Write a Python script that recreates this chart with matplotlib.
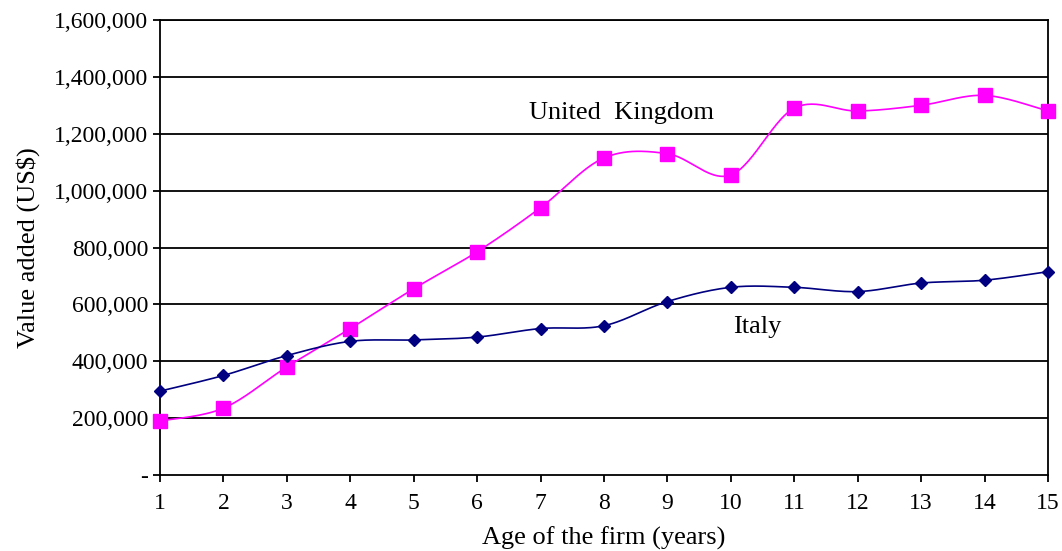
import matplotlib
matplotlib.use("Agg")
import matplotlib.pyplot as plt
import matplotlib.ticker as mticker
import numpy as np

plt.rcParams["font.family"] = ["Liberation Serif", "DejaVu Serif"]

age = list(range(1, 16))
uk = [190000, 235000, 380000, 515000, 655000, 785000, 940000, 1115000,
      1130000, 1055000, 1290000, 1280000, 1300000, 1335000, 1280000]
italy = [295000, 350000, 420000, 470000, 475000, 485000, 515000, 525000,
         610000, 660000, 660000, 645000, 675000, 685000, 715000]
yticks = list(range(0, 1600001, 200000))


def smooth(x, y, n=30):
    # Excel-style smoothed line (Catmull-Rom through the points)
    p = np.column_stack([x, y]).astype(float)
    p = np.vstack([p[0], p, p[-1]])
    out = []
    for i in range(1, len(p) - 2):
        p0, p1, p2, p3 = p[i - 1], p[i], p[i + 1], p[i + 2]
        c1 = p1 + (p2 - p0) / 6
        c2 = p2 - (p3 - p1) / 6
        t = np.linspace(0, 1, n)[:, None]
        seg = ((1 - t) ** 3 * p1 + 3 * (1 - t) ** 2 * t * c1
               + 3 * (1 - t) * t ** 2 * c2 + t ** 3 * p2)
        out.append(seg if i == 1 else seg[1:])
    out = np.vstack(out)
    return out[:, 0], out[:, 1]


fig = plt.figure(figsize=(10.62, 5.51), dpi=100)
ax = fig.add_axes([160 / 1062, 1 - 475 / 551, 888 / 1062, 455 / 551])

for y in yticks[1:]:
    ax.axhline(y, color="black", lw=1.3, zorder=1)

sx, sy = smooth(age, uk)
ax.plot(sx, sy, color="#ff00ff", lw=1.2, zorder=2)
ax.plot(age, uk, ls="none", marker="s", ms=10, color="#ff00ff", zorder=3,
        clip_on=False)

sx, sy = smooth(age, italy)
ax.plot(sx, sy, color="#000080", lw=1.2, zorder=2)
ax.plot(age, italy, ls="none", marker="D", ms=6.5, color="#000080", zorder=3,
        clip_on=False)

ax.text(8.28, 1273000, "United  Kingdom", fontsize=19, ha="center", va="center")
ax.text(10.41, 520000, "Italy", fontsize=19, ha="center", va="center")

ax.set_xlim(1, 15)
ax.set_ylim(0, 1600000)
ax.set_xticks(age)
ax.set_yticks(yticks)
ax.yaxis.set_major_formatter(mticker.FuncFormatter(
    lambda v, pos: "-" if v == 0 else f"{int(v):,}"))
ax.tick_params(axis="both", direction="out", length=5, width=1.3,
               labelsize=17, colors="black")
ax.tick_params(axis="x", pad=8)
for s in ax.spines.values():
    s.set_linewidth(1.3)

ax.set_xlabel("Age of the firm (years)", fontsize=19, labelpad=9)
ax.set_ylabel("Value added (US$)", fontsize=19, labelpad=10)

fig.savefig("out.png", dpi=100)
